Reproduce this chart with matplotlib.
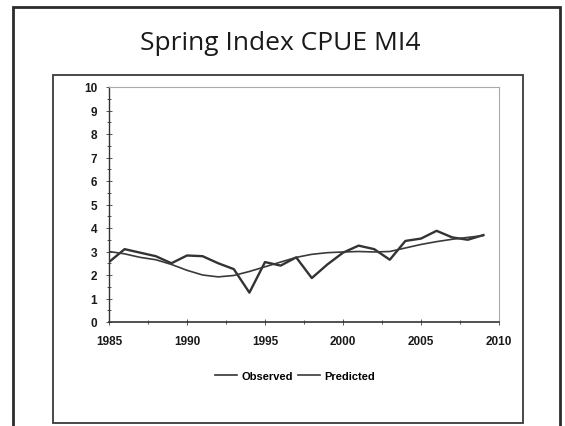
import matplotlib.pyplot as plt
from matplotlib.patches import Rectangle
from matplotlib.ticker import MultipleLocator

# data
years = list(range(1985, 2010))
observed = [2.55, 3.1, 2.95, 2.8, 2.5, 2.83, 2.8, 2.5, 2.25, 1.25,
            2.55, 2.4, 2.75, 1.87, 2.45, 2.95, 3.25, 3.1, 2.65, 3.45,
            3.55, 3.88, 3.6, 3.5, 3.7]
predicted = [3.0, 2.9, 2.75, 2.65, 2.45, 2.2, 2.0, 1.92, 1.98, 2.15,
             2.35, 2.55, 2.75, 2.88, 2.95, 2.98, 3.0, 2.98, 3.0, 3.15,
             3.3, 3.42, 3.52, 3.6, 3.68]
xticks = [1985, 1990, 1995, 2000, 2005, 2010]

W, H = 565, 427
fig = plt.figure(figsize=(W / 100, H / 100), dpi=100)

# slide frame and chart box (pixel coords -> figure fractions)
def px_rect(x0, y0, x1, y1, lw, color):
    r = Rectangle((x0 / W, 1 - y1 / H), (x1 - x0) / W, (y1 - y0) / H,
                  transform=fig.transFigure, fill=False, lw=lw,
                  edgecolor=color, clip_on=False)
    fig.patches.append(r)

px_rect(13, 8, 560, 440, 2.0, '#2b2b2b')
px_rect(53, 76, 523, 424, 1.3, '#3a3a3a')

fig.text(280 / W, 1 - 43 / H, 'Spring Index CPUE MI4', ha='center', va='center',
         fontsize=19, family='Open Sans', color='#1a1a1a')

ax = fig.add_axes([109 / W, 1 - 323 / H, 390 / W, 235 / H])
ax.plot(years, observed, color='#333333', lw=1.7, label='Observed')
ax.plot(years, predicted, color='#3a3a3a', lw=1.2, label='Predicted')

ax.set_xlim(1985, 2010)
ax.set_ylim(0, 10)
ax.set_xticks(xticks)
ax.xaxis.set_minor_locator(MultipleLocator(2.5))
ax.yaxis.set_major_locator(MultipleLocator(1))
ax.yaxis.set_minor_locator(MultipleLocator(0.5))
ax.tick_params(which='both', direction='inout', color='#555555', width=0.7)
ax.tick_params(which='major', length=5)
ax.tick_params(which='minor', length=3)
ax.tick_params(axis='x', pad=7)
ax.tick_params(axis='y', pad=6)
for lab in ax.get_xticklabels() + ax.get_yticklabels():
    lab.set_fontsize(8.5)
    lab.set_fontweight('bold')
    lab.set_family('Liberation Sans')
    lab.set_color('#1a1a1a')

ax.spines['left'].set_color('#333333')
ax.spines['bottom'].set_color('#333333')
ax.spines['left'].set_linewidth(1.0)
ax.spines['bottom'].set_linewidth(1.2)
ax.spines['top'].set_color('#aaaaaa')
ax.spines['right'].set_color('#aaaaaa')
ax.spines['top'].set_linewidth(0.8)
ax.spines['right'].set_linewidth(0.8)

leg = fig.legend(loc='center', bbox_to_anchor=(295 / W, 1 - 377 / H), ncol=2,
                 frameon=False, handlelength=2.0, handletextpad=0.4, columnspacing=0.4,
                 prop={'family': 'Liberation Sans', 'weight': 'bold', 'size': 8})
for line in leg.get_lines():
    line.set_linewidth(1.2)

fig.savefig('out.png', dpi=100)
